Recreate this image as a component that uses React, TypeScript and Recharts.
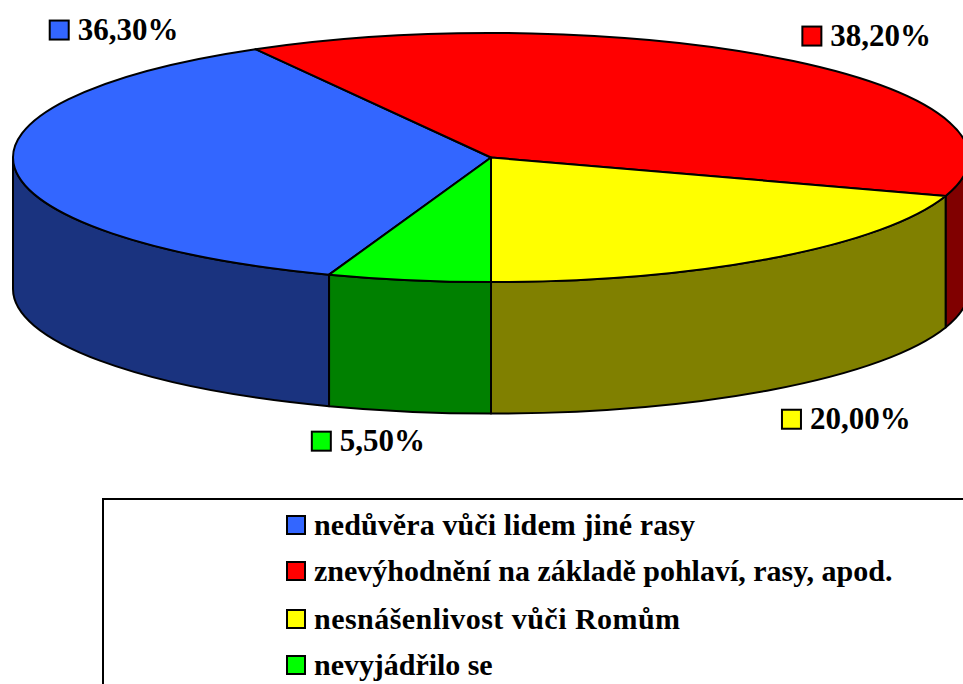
import React from 'react';
import { PieChart, Pie, Legend } from 'recharts';

const categories = [
  'nedůvěra vůči lidem jiné rasy',
  'znevýhodnění na základě pohlaví, rasy, apod.',
  'nesnášenlivost vůči Romům',
  'nevyjádřilo se',
];
const shares = [36.3, 38.2, 20.0, 5.5];
const shareLabels = ['36,30%', '38,20%', '20,00%', '5,50%'];
const topColors = ['#3366FF', '#FF0000', '#FFFF00', '#00FF00'];
const sideColors = ['#1A337F', '#800000', '#808000', '#008000'];

const pieData = categories.map((name, i) => ({
  name,
  value: shares[i],
  label: shareLabels[i],
  fill: topColors[i],
  side: sideColors[i],
}));

// 3D look: squash the circle and extrude it downwards
const TILT = 0.2605;
const DEPTH = 131.5;
const FONT = '"Liberation Serif", serif';

// label position relative to the rim point at the slice's mid angle
const labelOffsets = [
  [35, -138.5],
  [9, -25.5],
  [10, 160.5],
  [-97, 160.5],
];
const legendRowTops = [15, 61, 109, 155];
const legendSpacing = [0.1, 0, 0.46, -0.04];

const rim = (cx: number, cy: number, rx: number, ry: number, deg: number) => {
  const a = (deg * Math.PI) / 180;
  return [cx + rx * Math.cos(a), cy - ry * Math.sin(a)];
};

function sidePaths(cx: number, cy: number, rx: number, ry: number, start: number, end: number) {
  const paths: string[] = [];
  // angles run clockwise (decreasing); the front wall is where sin < 0
  for (let k = -2; k <= 2; k++) {
    const a = Math.min(start, 360 * k);
    const b = Math.max(end, 360 * k - 180);
    if (a - b < 0.01) continue;
    const [x1, y1] = rim(cx, cy, rx, ry, a);
    const [x2, y2] = rim(cx, cy, rx, ry, b);
    paths.push(
      `M${x1},${y1} A${rx},${ry} 0 0 1 ${x2},${y2} L${x2},${y2 + DEPTH} A${rx},${ry} 0 0 0 ${x1},${y1 + DEPTH} Z`
    );
  }
  return paths;
}

function TiltedSector(props: any) {
  const { cx, cy, outerRadius, startAngle, endAngle, fill, side } = props;
  const rx = outerRadius;
  const ry = outerRadius * TILT;
  const [x1, y1] = rim(cx, cy, rx, ry, startAngle);
  const [x2, y2] = rim(cx, cy, rx, ry, endAngle);
  const large = Math.abs(startAngle - endAngle) > 180 ? 1 : 0;
  return (
    <g>
      {sidePaths(cx, cy, rx, ry, startAngle, endAngle).map((d, i) => (
        <path key={i} d={d} fill={side} stroke="#000" strokeWidth={2} strokeLinejoin="round" />
      ))}
      <path
        d={`M${cx},${cy} L${x1},${y1} A${rx},${ry} 0 ${large} 1 ${x2},${y2} Z`}
        fill={fill}
        stroke="#000"
        strokeWidth={2}
        strokeLinejoin="round"
      />
    </g>
  );
}

function SliceLabel(props: any) {
  const { cx, cy, outerRadius, midAngle, index, payload } = props;
  const [px, py] = rim(cx, cy, outerRadius, outerRadius * TILT, midAngle);
  const x = px + labelOffsets[index][0];
  const y = py + labelOffsets[index][1];
  return (
    <g>
      <rect x={x} y={y - 9} width={19} height={19} fill={topColors[index]} stroke="#000" strokeWidth={2} />
      <text x={x + 28} y={y + 10} fontFamily={FONT} fontWeight="bold" fontSize={31} fill="#000">
        {payload?.label ?? shareLabels[index]}
      </text>
    </g>
  );
}

function BoxLegend() {
  return (
    <div
      style={{
        position: 'relative',
        width: 960,
        height: 300,
        boxSizing: 'border-box',
        border: '2px solid #000',
        background: '#fff',
      }}
    >
      {categories.map((name, i) => (
        <div key={name} style={{ position: 'absolute', left: 182, top: legendRowTops[i], whiteSpace: 'nowrap' }}>
          <span
            style={{
              position: 'absolute',
              left: 0,
              top: 0,
              width: 16,
              height: 16,
              background: topColors[i],
              border: '2px solid #000',
            }}
          />
          <span
            style={{
              position: 'absolute',
              left: 28,
              top: -6,
              fontFamily: FONT,
              fontWeight: 'bold',
              fontSize: 30,
              letterSpacing: legendSpacing[i],
              lineHeight: '32px',
              color: '#000',
            }}
          >
            {name}
          </span>
        </div>
      ))}
    </div>
  );
}

export default function App() {
  return (
    <div style={{ position: 'absolute', left: 0, top: 0, width: 963, height: 684, overflow: 'hidden', background: '#fff' }}>
      <PieChart width={963} height={684} margin={{ top: 0, right: 0, bottom: 0, left: 0 }}>
        <Pie
          data={pieData}
          dataKey="value"
          nameKey="name"
          cx={491}
          cy={157.5}
          innerRadius={0}
          outerRadius={478}
          startAngle={-109.8}
          endAngle={-469.8}
          paddingAngle={0}
          shape={TiltedSector}
          label={SliceLabel}
          labelLine={false}
          isAnimationActive={false}
        />
        <Legend content={BoxLegend} wrapperStyle={{ left: 102, top: 498, width: 960, height: 300 }} />
      </PieChart>
    </div>
  );
}
